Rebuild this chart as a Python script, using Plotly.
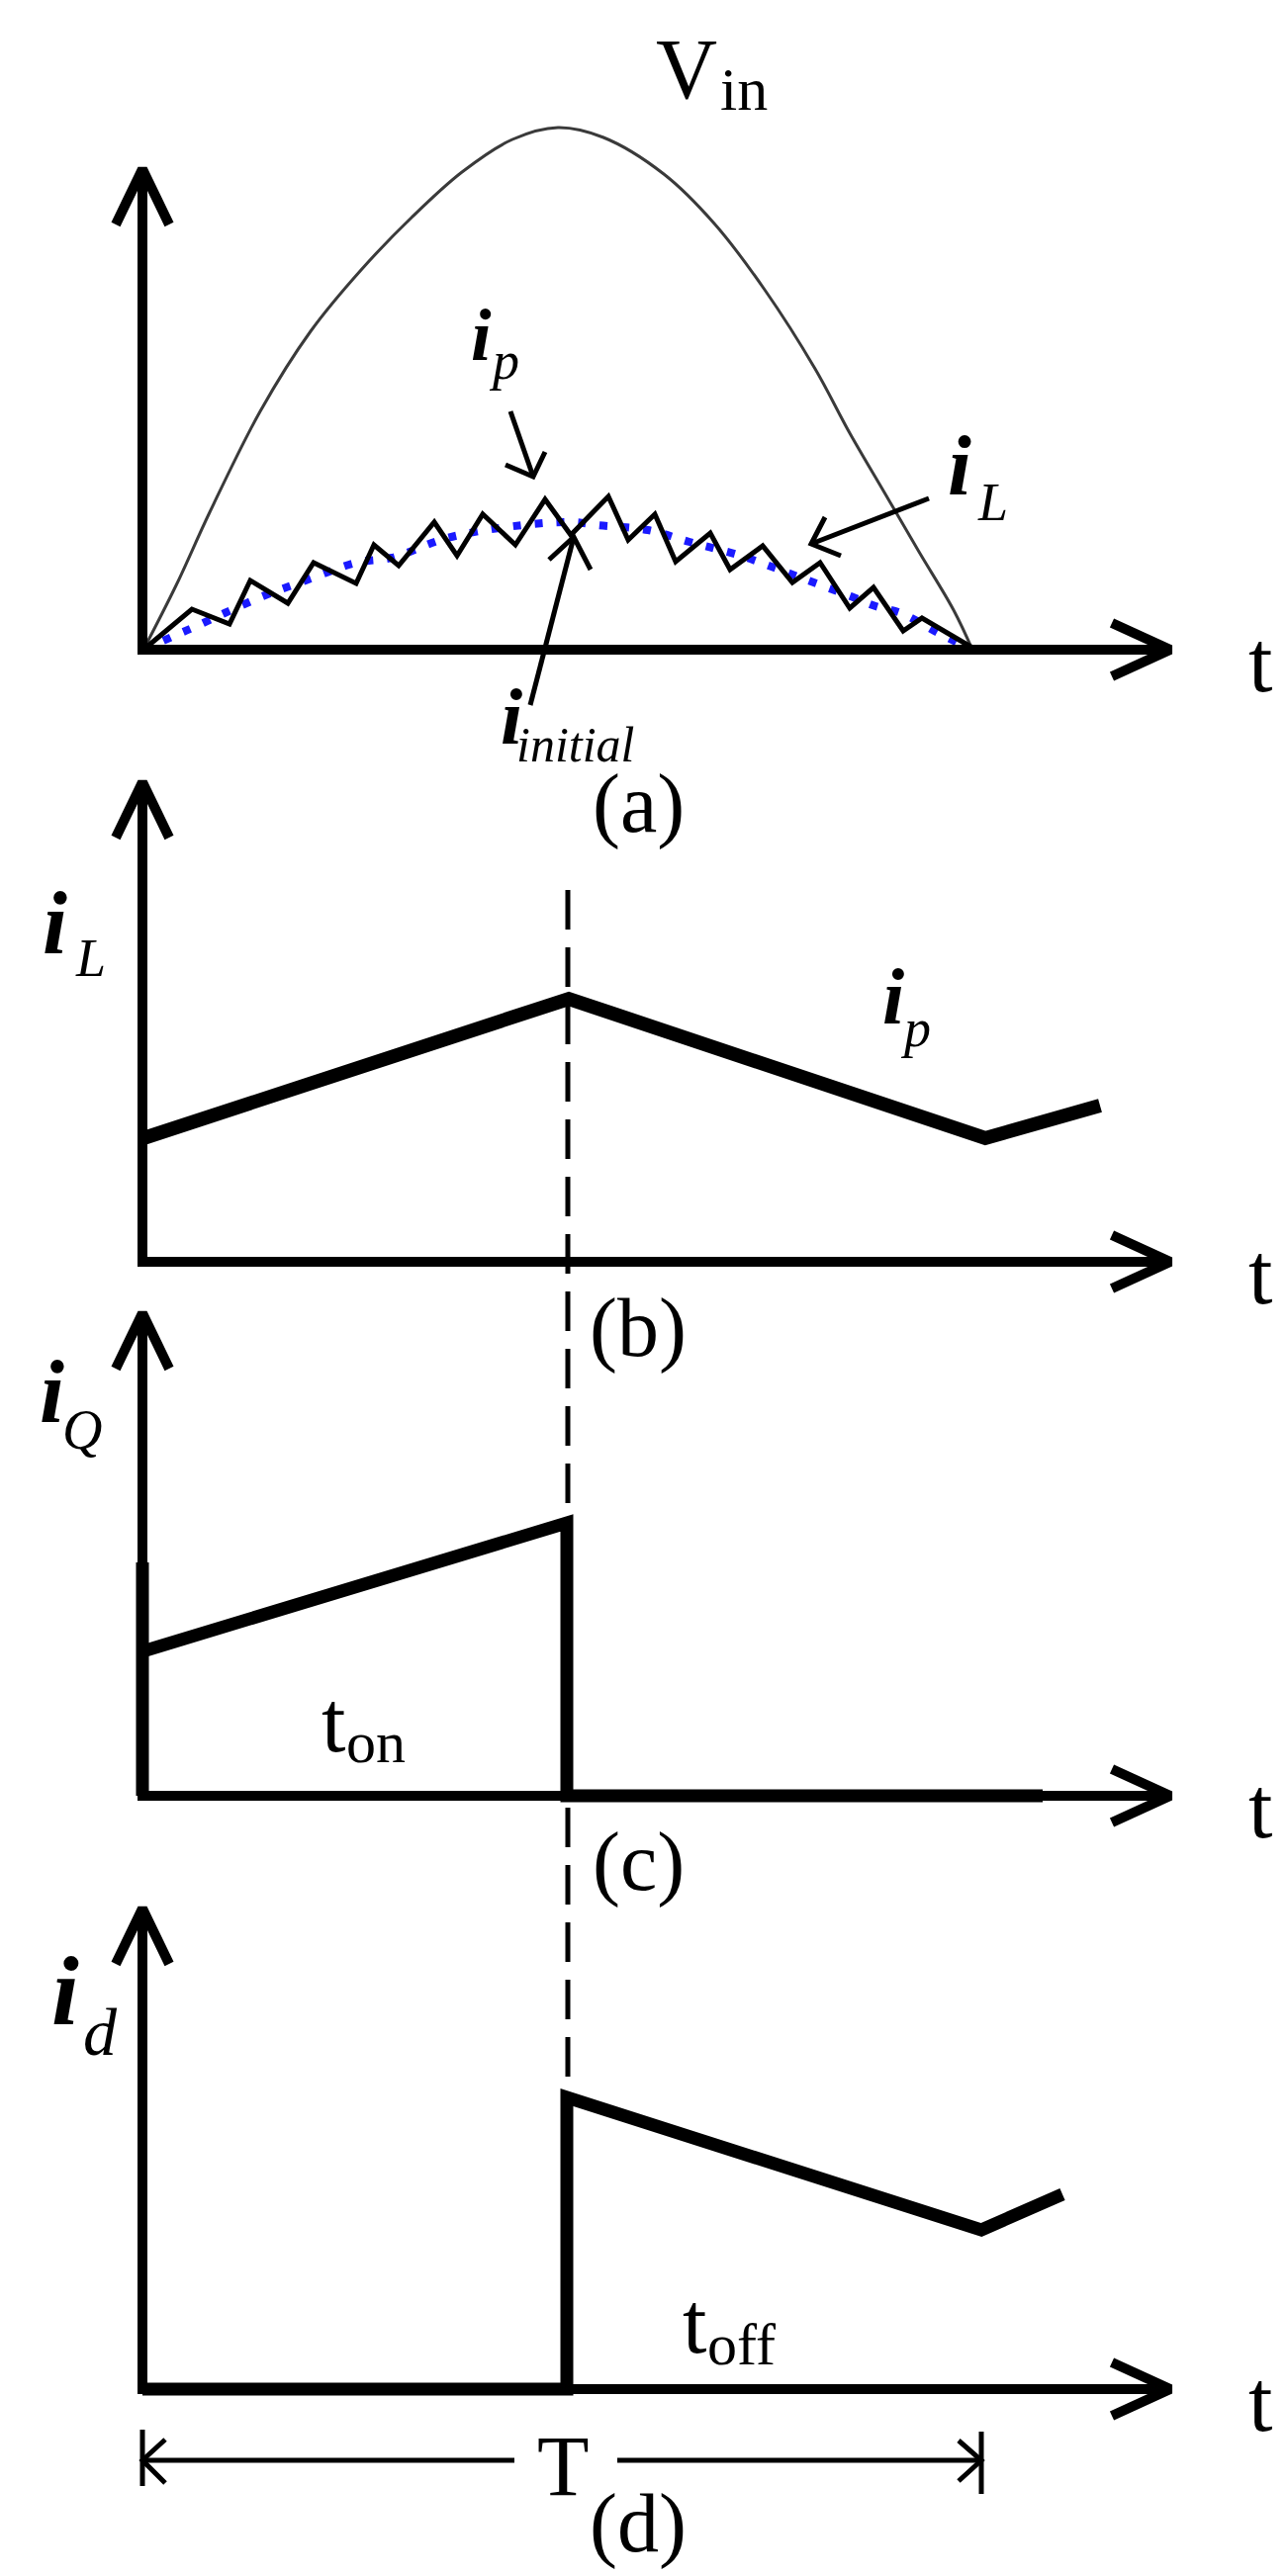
import plotly.graph_objects as go

W, H = 1301, 2605
FONT = "Liberation Serif"

# ---------------- panel (a): line input and inductor current -------------
vin_x = [137, 170, 204, 255, 306, 357, 408, 459, 510, 556, 602, 663, 714, 765, 816, 851, 886, 921, 956, 975]
vin_y = [649, 584, 510, 408, 327, 265, 212, 166, 133, 121, 131, 168, 218, 285, 365, 430, 490, 550, 609, 649]

il_x = [137, 186, 224, 245, 283, 309, 352, 370, 395, 431, 454, 480, 513, 543, 569, 607, 627,
        654, 675, 710, 730, 763, 793, 821, 851, 875, 905, 924, 975]
il_y = [649, 608, 623, 579, 602, 561, 582, 543, 564, 520, 554, 512, 543, 497, 533, 494, 538,
        512, 560, 531, 568, 544, 581, 561, 607, 586, 630, 617, 647]

init_x = [137, 168, 191, 219, 260, 301, 352, 388, 444, 520, 571, 595, 647, 689, 738, 761, 809, 852, 877, 903, 942, 975]
init_y = [649, 635, 625, 612, 594, 579, 561, 556, 536, 523, 520, 523, 528, 540, 553, 561, 579, 595, 605, 612, 633, 649]

# ---------------- panel (b): inductor current over one period ------------
ilb_x = [137, 567, 988, 1104]
ilb_y = [1143, 1002, 1143, 1110]

# ---------------- panel (c): switch current ------------------------------
iq_x = [136, 136, None, 136, 565, 565, 1046]
iq_y = [1572, 1808, None, 1662, 1532, 1808, 1808]

# ---------------- panel (d): diode current -------------------------------
id_x = [136, 565, 565, 984, 1066]
id_y = [2408, 2408, 2113, 2247, 2211]

# axes: (origin x, top of y arrow, x-axis y, right tip)
axes_origin_x = [136, 136, 136, 136]
axes_top_y = [163, 783, 1320, 1922]
axes_base_y = [649, 1268, 1808, 2408]
axes_tip_x = [1175, 1175, 1175, 1175]

# dashed switching instant
dash_x = [566, 566]
dash_y = [892, 2113]

# period dimension line
period_left, period_right, period_y = 136, 984, 2480

fig = go.Figure()


def line(x, y, width, color="black", dash=None, shape="linear"):
    fig.add_trace(go.Scatter(x=x, y=y, mode="lines", hoverinfo="skip",
                             line=dict(color=color, width=width, dash=dash, shape=shape),
                             showlegend=False))


# dashed line behind everything
line(dash_x, dash_y, 5, dash="40px,18px")

# panel (a) curves
line(vin_x, vin_y, 3, color="#3a3a3a", shape="spline")
line(init_x, init_y, 8, color="#1a1aff", dash="8px,14px", shape="spline")
line(il_x, il_y, 5)

# axes with open arrow heads
for ox, ty, by, tx in zip(axes_origin_x, axes_top_y, axes_base_y, axes_tip_x):
    line([ox, ox, tx], [ty, by, by], 10)
    line([ox - 27, ox, ox + 27], [ty + 56, ty, ty + 56], 10)
    line([tx - 59, tx, tx - 59], [by - 27, by, by + 27], 10)

# waveforms
line(ilb_x, ilb_y, 14)
line(iq_x, iq_y, 13)
line(id_x, id_y, 13)

# annotation arrows in (a)
line([508, 531], [408, 474], 5)
line([503, 531, 543], [462, 474, 449], 5)
line([931, 812], [496, 542], 5)
line([826, 812, 842], [515, 542, 554], 5)
line([528, 572], [705, 535], 5)
line([547, 572, 589], [558, 535, 568], 5)

# period dimension
line([period_left, period_left], [2449, 2506], 5)
line([period_right, period_right], [2451, 2514], 5)
line([period_left, 512], [period_y, period_y], 5)
line([616, period_right], [period_y, period_y], 5)
line([159, period_left, 159], [2459, period_y, 2503], 5)
line([961, period_right, 961], [2460, period_y, 2501], 5)

DESC = 0.216


def label(text, x, baseline, size, anchor="left"):
    fig.add_annotation(x=x, y=baseline + DESC * size + 1, text=text, showarrow=False,
                       xanchor=anchor, yanchor="bottom", xref="x", yref="y",
                       font=dict(family=FONT, size=size, color="black"))


# Vin
label("V", 686, 92, 86, anchor="center")
label("in", 718, 104, 62)
# t labels on the time axes
for by in axes_base_y:
    label("t", 1266, by + 43, 88, anchor="center")
# panel letters
for cy, txt in zip([835, 1365, 1905, 2574], ["(a)", "(b)", "(c)", "(d)"]):
    label(txt, 637, cy, 84, anchor="center")
# (a) labels
label("<b><i>i</i></b>", 466, 357, 74)
label("<i>p</i>", 484, 376, 54)
label("<b><i>i</i></b>", 948, 493, 86)
label("<i>L</i>", 978, 519, 54)
label("<b><i>i</i></b>", 496, 745, 80)
label("<i>initial</i>", 512, 763, 50)
# (b)
label("<b><i>i</i></b>", 33, 957, 90)
label("<i>L</i>", 66, 980, 54)
label("<b><i>i</i></b>", 882, 1028, 80)
label("<i>p</i>", 900, 1051, 54)
# (c)
label("<b><i>i</i></b>", 30, 1431, 90)
label("<i>Q</i>", 53, 1458, 56)
label("t", 329, 1764, 88, anchor="center")
label("on", 340, 1775, 60)
# (d)
label("<b><i>i</i></b>", 42, 2040, 100)
label("<i>d</i>", 74, 2071, 68)
label("t", 694, 2372, 88, anchor="center")
label("off", 705, 2384, 60)
label("T", 561, 2516, 86, anchor="center")

fig.update_layout(
    width=W, height=H, margin=dict(l=0, r=0, t=0, b=0),
    paper_bgcolor="white", plot_bgcolor="white",
    xaxis=dict(range=[0, W], visible=False, fixedrange=True),
    yaxis=dict(range=[H, 0], visible=False, fixedrange=True),
    showlegend=False,
)
fig.write_html("out.html", config={"displayModeBar": False})
